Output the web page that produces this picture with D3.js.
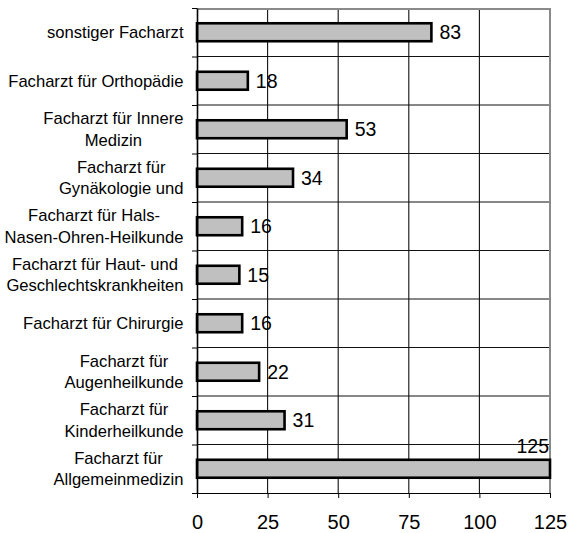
<!DOCTYPE html>
<html>
<head>
<meta charset="utf-8">
<script src="https://cdn.jsdelivr.net/npm/d3@7"></script>
<style>
  html, body { margin: 0; padding: 0; background: #fff; }
  svg { display: block; font-family: "Liberation Sans", Arial, sans-serif; }
</style>
</head>
<body>
<svg id="chart" width="568" height="533"></svg>
<script>
// Categories (top to bottom); "\n" marks a line break in the axis label
const categories = [
  "sonstiger Facharzt",
  "Facharzt für Orthopädie",
  "Facharzt für Innere\nMedizin",
  "Facharzt für\nGynäkologie und",
  "Facharzt für Hals-\nNasen-Ohren-Heilkunde",
  "Facharzt für Haut- und\nGeschlechtskrankheiten",
  "Facharzt für Chirurgie",
  "Facharzt für\nAugenheilkunde",
  "Facharzt für\nKinderheilkunde",
  "Facharzt für\nAllgemeinmedizin"
];
const values = [83, 18, 53, 34, 16, 15, 16, 22, 31, 125];
const xTicks = [0, 25, 50, 75, 100, 125];

const svg = d3.select("#chart");
const plot = { left: 197, right: 550, top: 8, bottom: 493 };

const x = d3.scaleLinear().domain([0, 125]).range([plot.left, plot.right]);
const y = d3.scaleBand()
  .domain(categories)
  .range([plot.top, plot.bottom])
  .paddingInner(0.63)
  .paddingOuter(0.315);
// category boundaries for gridlines and axis ticks
const yEdge = d3.scaleLinear().domain([0, categories.length]).range([plot.top, plot.bottom]);
const edges = d3.range(categories.length + 1);

// horizontal gridlines at category boundaries
svg.append("g").selectAll("line").data(edges.slice(1, -1)).join("line")
  .attr("x1", plot.left).attr("x2", plot.right)
  .attr("y1", d => yEdge(d)).attr("y2", d => yEdge(d))
  .attr("stroke", "#111").attr("stroke-width", 1);

// vertical gridlines at value ticks
svg.append("g").selectAll("line").data(xTicks.slice(1, -1)).join("line")
  .attr("x1", d => x(d)).attr("x2", d => x(d))
  .attr("y1", plot.top).attr("y2", plot.bottom)
  .attr("stroke", "#111").attr("stroke-width", 1.1);

// top and right frame
svg.append("line")
  .attr("x1", plot.left).attr("x2", plot.right)
  .attr("y1", plot.top + 1).attr("y2", plot.top + 1)
  .attr("stroke", "#8a8a8a").attr("stroke-width", 2);
svg.append("line")
  .attr("x1", plot.right).attr("x2", plot.right)
  .attr("y1", plot.top).attr("y2", plot.bottom)
  .attr("stroke", "#8a8a8a").attr("stroke-width", 2);

// bars
svg.append("g").selectAll("rect").data(values).join("rect")
  .attr("x", x(0))
  .attr("y", (d, i) => y(categories[i]))
  .attr("width", d => x(d) - x(0))
  .attr("height", y.bandwidth())
  .attr("fill", "#c0c0c0")
  .attr("stroke", "#000")
  .attr("stroke-width", 2.6);

// value labels: right of the bar, or above it when there is no room
const valueFont = 19.5;
svg.append("g").selectAll("text").data(values).join("text")
  .attr("font-size", valueFont)
  .attr("fill", "#000")
  .each(function (d, i) {
    const t = d3.select(this).text(d);
    const cy = y(categories[i]) + y.bandwidth() / 2;
    const w = this.getComputedTextLength();
    if (x(d) + 8 + w <= plot.right) {
      t.attr("x", x(d) + 8).attr("y", cy + valueFont * 0.36).attr("text-anchor", "start");
    } else {
      t.attr("x", x(d) - 1).attr("y", y(categories[i]) - 7).attr("text-anchor", "end");
    }
  });

// x axis
const xAxis = svg.append("g")
  .attr("transform", `translate(0,${plot.bottom})`)
  .call(d3.axisBottom(x).tickValues(xTicks).tickSize(5).tickSizeOuter(0).tickPadding(31));
xAxis.select(".domain").attr("stroke", "#000").attr("stroke-width", 1.2)
  .attr("d", `M${plot.left - 5},0.5H${plot.right}`);
xAxis.selectAll(".tick line").attr("stroke", "#000");
xAxis.selectAll(".tick text")
  .attr("font-family", "'Liberation Sans', Arial, sans-serif")
  .attr("font-size", 20).attr("fill", "#000").attr("dy", "0");

// y axis (ticks at category boundaries)
const yAxis = svg.append("g")
  .attr("transform", `translate(${plot.left},0)`)
  .call(d3.axisLeft(yEdge).tickValues(edges).tickSize(5).tickSizeOuter(0).tickFormat(""));
yAxis.select(".domain").attr("stroke", "#000").attr("stroke-width", 1.6);
yAxis.selectAll(".tick line").attr("stroke", "#000");

// category labels: lines centred within a block whose right edge sits left of the axis
const catFont = 16.6, lineH = 21.5, labelRight = 183.5;
const labels = svg.append("g").attr("font-size", catFont).attr("fill", "#000");
categories.forEach((c, i) => {
  const lines = c.split("\n");
  const cy = y(c) + y.bandwidth() / 2;
  const g = labels.append("g");
  const texts = lines.map((ln, k) => g.append("text")
    .attr("y", cy + (k - (lines.length - 1) / 2) * lineH + catFont * 0.36)
    .attr("text-anchor", "middle")
    .text(ln));
  const maxW = d3.max(texts, t => t.node().getComputedTextLength());
  texts.forEach(t => t.attr("x", labelRight - maxW / 2));
});
</script>
</body>
</html>
